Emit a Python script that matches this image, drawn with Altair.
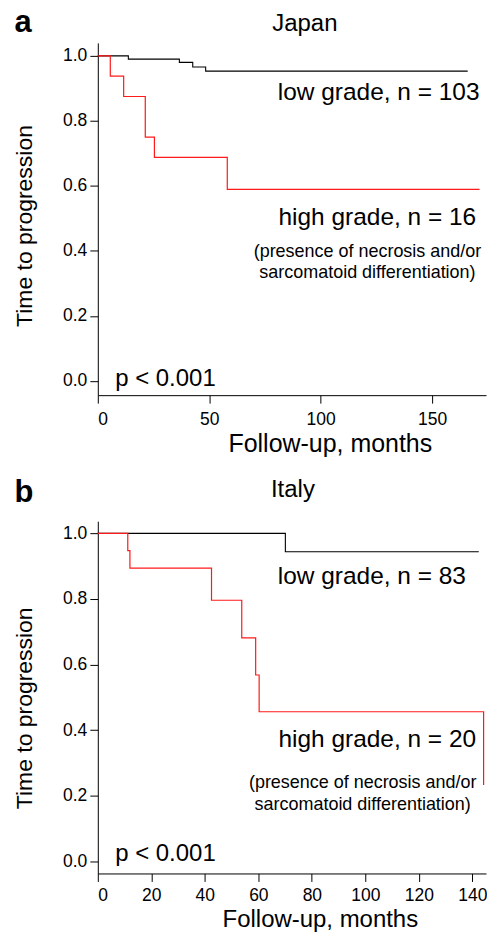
import altair as alt
import pandas as pd

FONT = "Liberation Sans"

# ---- data ----
# Japan
jp_low_t = [0, 13.7, 36.6, 42.6, 48.4, 166.0]
jp_low_s = [1.0, 0.990, 0.980, 0.966, 0.953, 0.953]
jp_high_t = [0, 5.6, 11.6, 21.3, 25.4, 58.1, 171.3]
jp_high_s = [1.0, 0.9375, 0.875, 0.75, 0.6875, 0.589, 0.589]
# Italy
it_low_t = [0, 70.1, 142.4]
it_low_s = [1.0, 0.944, 0.944]
it_high_t = [0, 11.2, 12.0, 42.5, 53.8, 59.0, 60.3, 144.2]
it_high_s = [1.0, 0.947, 0.894, 0.796, 0.681, 0.568, 0.456, 0.233]

jp_xticks = [0, 50, 100, 150]
it_xticks = [0, 20, 40, 60, 80, 100, 120, 140]
yticks = [0.0, 0.2, 0.4, 0.6, 0.8, 1.0]

jp_labels = ["low grade, n = 103", "high grade, n = 16"]
it_labels = ["low grade, n = 83", "high grade, n = 20"]
note_lines = ["(presence of necrosis and/or", "sarcomatoid differentiation)"]
p_text = "p < 0.001"

W, H = 389, 353


def make_panel(low_t, low_s, high_t, high_s, xmax, xticks, ydom,
               labels, label_pos, note_x, note_y, p_pos,
               title, title_dx, title_dy, letter, letter_dy,
               xtitle_x, xtitle_y, xtitle_size, xlabel_pad, ytitle_y, pin_y):
    xs = alt.Scale(domain=[0, xmax], nice=False, zero=False)
    ys = alt.Scale(domain=ydom, nice=False, zero=False)
    xax = alt.Axis(values=xticks, title="Follow-up, months", format="d",
                   titleX=xtitle_x, titleY=xtitle_y, titleBaseline="alphabetic",
                   titleFontSize=xtitle_size, labelPadding=xlabel_pad)
    yax = alt.Axis(values=yticks, title="Time to progression", format=".1f",
                   titleX=-66, titleY=ytitle_y, titleBaseline="alphabetic",
                   titleFontSize=23)

    low = pd.DataFrame({"t": low_t, "s": low_s})
    high = pd.DataFrame({"t": high_t, "s": high_s})

    l1 = alt.Chart(low).mark_line(interpolate="step-after", color="#000000",
                                  strokeWidth=1.1).encode(
        x=alt.X("t:Q", scale=xs, axis=xax),
        y=alt.Y("s:Q", scale=ys, axis=yax))
    l2 = alt.Chart(high).mark_line(interpolate="step-after", color="#ff1a1a",
                                   strokeWidth=1.2).encode(
        x=alt.X("t:Q", scale=xs), y=alt.Y("s:Q", scale=ys))

    lab = pd.DataFrame({"x": [p[0] for p in label_pos],
                        "y": [p[1] for p in label_pos], "txt": labels})
    t1 = alt.Chart(lab).mark_text(align="right", baseline="alphabetic",
                                  font=FONT, fontSize=24.5, color="black").encode(
        x=alt.X("x:Q", scale=xs), y=alt.Y("y:Q", scale=ys), text="txt:N")

    note = pd.DataFrame({"x": [note_x, note_x], "y": note_y, "txt": note_lines})
    t2 = alt.Chart(note).mark_text(align="center", baseline="alphabetic",
                                   font=FONT, fontSize=18, color="black").encode(
        x=alt.X("x:Q", scale=xs), y=alt.Y("y:Q", scale=ys), text="txt:N")

    pdf = pd.DataFrame({"x": [p_pos[0]], "y": [p_pos[1]], "txt": [p_text]})
    t3 = alt.Chart(pdf).mark_text(align="left", baseline="alphabetic",
                                  font=FONT, fontSize=24, color="black").encode(
        x=alt.X("x:Q", scale=xs), y=alt.Y("y:Q", scale=ys), text="txt:N")

    tdf = pd.DataFrame({"txt": [title]})
    t4 = alt.Chart(tdf).mark_text(align="center", baseline="alphabetic",
                                  font=FONT, fontSize=24, color="black").encode(
        x=alt.value(title_dx), y=alt.value(title_dy), text="txt:N")

    ldf = pd.DataFrame({"txt": [letter]})
    t5 = alt.Chart(ldf).mark_text(align="left", baseline="alphabetic",
                                  font=FONT, fontSize=31, fontWeight="bold",
                                  color="black").encode(
        x=alt.value(-83.5), y=alt.value(letter_dy), text="txt:N")

    # invisible pin that fixes the outer bounds of the page layout
    pin = alt.Chart(pd.DataFrame({"k": [0]})).mark_rule(
        strokeOpacity=0, strokeWidth=0.01).encode(
        x=alt.value(-89.5), x2=alt.value(-88.5), y=alt.value(pin_y))

    return alt.layer(l1, l2, t1, t2, t3, t4, t5, pin).properties(width=W, height=H)


top = make_panel(jp_low_t, jp_low_s, jp_high_t, jp_high_s, W / 2.233, jp_xticks,
                 [-0.044, 1.040], jp_labels,
                 [(171.3, 0.863), (169.8, 0.481)], 121.0, [0.380, 0.318],
                 (7.8, -0.016), "Japan", 207.5, -11.5, "a", -10.7,
                 232.5, 56.5, 25, 7.5, 183, -41.7)
bottom = make_panel(it_low_t, it_low_s, it_high_t, it_high_s, W / 2.681, it_xticks,
                    [-0.037, 1.037], it_labels,
                    [(137.6, 0.845), (141.4, 0.348)], 99.0, [0.223, 0.158],
                    (6.5, 0.0), "Italy", 195.5, -24, "b", -19.3,
                    222.5, 53, 24, 5.5, 187, H + 58)

chart = alt.vconcat(top, bottom, spacing=126.3, bounds="flush").configure(
    padding={"left": 0, "top": -8, "right": 0, "bottom": 0},
    font=FONT,
).configure_view(stroke=None).configure_axis(
    grid=False, domainColor="black", domainWidth=1, tickColor="black",
    tickWidth=1, tickSize=8, labelFont=FONT, labelFontSize=17.5,
    labelColor="black", labelPadding=3, titleFont=FONT, titleFontSize=25,
    titleFontWeight="normal", titleColor="black"
)

chart.save("out.html", embed_options={"renderer": "svg", "actions": False})
